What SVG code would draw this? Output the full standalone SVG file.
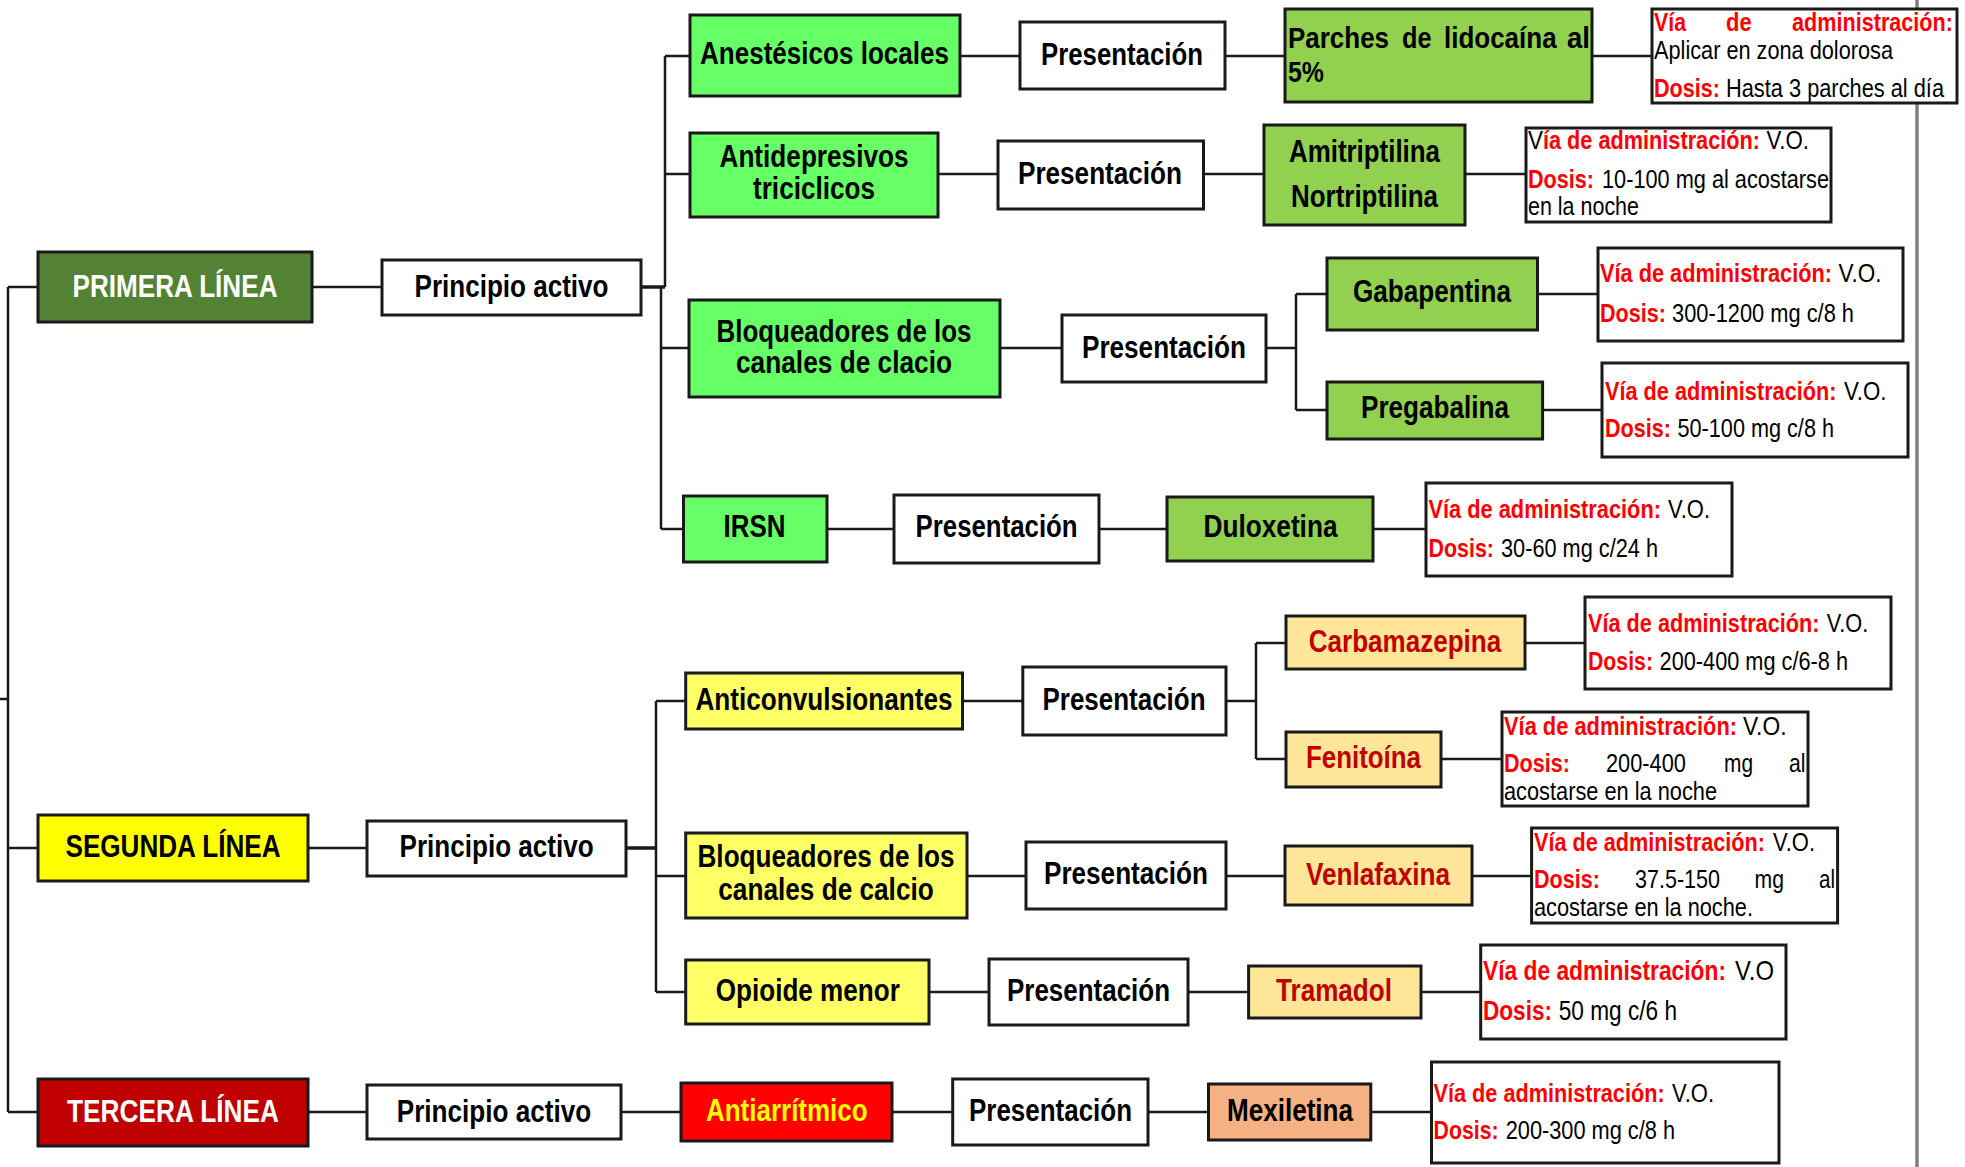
<svg xmlns="http://www.w3.org/2000/svg" width="1965" height="1167" viewBox="0 0 1965 1167">
<style>
text{font-family:"Liberation Sans Narrow","Arial Narrow","Liberation Sans",Arial,sans-serif;}
.box{stroke:#1a1a1a;stroke-width:3;}
.w{fill:#ffffff;}
.g1{fill:#548235;}
.g2{fill:#66FF66;}
.g3{fill:#92D050;}
.y1{fill:#FFFF00;}
.y2{fill:#FFFF66;}
.o1{fill:#FFE699;}
.rd1{fill:#C00000;}
.rd2{fill:#FF0000;}
.pe{fill:#F4B183;}
.h{font-weight:bold;font-size:31px;text-anchor:middle;fill:#000;}
.p{font-weight:bold;font-size:29px;fill:#000;}
.hw{fill:#fff;}
.hr{fill:#C00000;}
.hy{fill:#FFFF00;}
.i{font-size:26.5px;fill:#000;}
.r{fill:#FF0000;font-weight:bold;}
</style>

<line x1="1917" y1="0" x2="1917" y2="1167" stroke="#808080" stroke-width="3.5"/>

<g id="connectors" fill="none" stroke="#1a1a1a" stroke-width="2.5">
<path d="M8,287 V1112 M0,699 H8 M8,287 H38 M8,848 H38 M8,1112 H38"/>
<path d="M312,287 H382"/>
<path d="M641,287 H665" stroke-width="3.5"/>
<path d="M665,56 V287 M661,287 V529 M665,56 H690 M665,174 H690 M661,348 H689 M661,529 H683.5"/>
<path d="M960,56 H1020 M1225,56 H1285 M1592,56 H1652"/>
<path d="M938,174 H998 M1203.5,174 H1264 M1465,174 H1526"/>
<path d="M1000,348 H1062 M1266,348 H1296 M1296,294 V410 M1296,294 H1327 M1296,410 H1327 M1537.5,294 H1598 M1542.6,410 H1602"/>
<path d="M827,529 H894 M1099,529 H1167 M1373,529 H1426"/>
<path d="M308,848 H367"/>
<path d="M626,848 H656" stroke-width="3.5"/>
<path d="M656,701 V992 M656,701 H685.7 M656,876 H685.7 M656,992 H685.7"/>
<path d="M962.5,701 H1022.8 M1226,701 H1256 M1256,643 V759 M1256,643 H1286 M1256,759 H1286 M1525,643 H1585 M1441,759 H1502"/>
<path d="M967,876 H1026 M1226,876 H1285 M1472,876 H1532"/>
<path d="M929,992 H989 M1188,992 H1248.6 M1421,992 H1481"/>
<path d="M308,1112 H367 M621,1112 H681 M892,1112 H952.7 M1148,1112 H1208.5 M1371,1112 H1431.5"/>
</g>

<g id="primera-linea"><rect class="box g1" x="38" y="252" width="274" height="70"/><text class="h hw" x="175" y="297" textLength="205" lengthAdjust="spacingAndGlyphs">PRIMERA LÍNEA</text></g>
<g id="principio-1"><rect class="box w" x="382" y="260" width="259" height="55"/><text class="h" x="511.5" y="297" textLength="194" lengthAdjust="spacingAndGlyphs">Principio activo</text></g>

<g id="anestesicos"><rect class="box g2" x="690" y="15" width="270" height="81"/><text class="h" x="824.5" y="64" textLength="249" lengthAdjust="spacingAndGlyphs">Anestésicos locales</text></g>
<g id="presentacion-1"><rect class="box w" x="1020" y="22" width="205" height="67"/><text class="h" x="1122" y="65" textLength="162" lengthAdjust="spacingAndGlyphs">Presentación</text></g>
<g id="parches"><rect class="box g3" x="1285" y="9" width="307" height="93"/>
<text class="p" x="1288" y="48" textLength="101" lengthAdjust="spacingAndGlyphs">Parches</text>
<text class="p" x="1402" y="48" textLength="29.5" lengthAdjust="spacingAndGlyphs">de</text>
<text class="p" x="1444" y="48" textLength="112.6" lengthAdjust="spacingAndGlyphs">lidocaína</text>
<text class="p" x="1567" y="48" textLength="23" lengthAdjust="spacingAndGlyphs">al</text>
<text class="p" x="1288" y="82" textLength="36" lengthAdjust="spacingAndGlyphs">5%</text></g>
<g id="info-parches"><rect class="box w" x="1652" y="9" width="305" height="94"/>
<text class="i r" x="1654" y="31" textLength="32" lengthAdjust="spacingAndGlyphs">Vía</text>
<text class="i r" x="1726" y="31" textLength="25.6" lengthAdjust="spacingAndGlyphs">de</text>
<text class="i r" x="1792" y="31" textLength="161" lengthAdjust="spacingAndGlyphs">administración:</text>
<text class="i" x="1654" y="59" textLength="239" lengthAdjust="spacingAndGlyphs">Aplicar en zona dolorosa</text>
<text class="i r" x="1654" y="97" textLength="66" lengthAdjust="spacingAndGlyphs">Dosis:</text>
<text class="i" x="1726" y="97" textLength="218" lengthAdjust="spacingAndGlyphs">Hasta 3 parches al día</text></g>

<g id="antidepresivos"><rect class="box g2" x="690" y="133" width="248" height="84"/>
<text class="h" x="814" y="167" textLength="189" lengthAdjust="spacingAndGlyphs">Antidepresivos</text>
<text class="h" x="814" y="199" textLength="122" lengthAdjust="spacingAndGlyphs">triciclicos</text></g>
<g id="presentacion-2"><rect class="box w" x="998" y="141" width="205.5" height="68"/><text class="h" x="1100" y="184" textLength="164" lengthAdjust="spacingAndGlyphs">Presentación</text></g>
<g id="amitriptilina"><rect class="box g3" x="1264" y="125" width="201" height="100"/>
<text class="h" x="1364.5" y="162" textLength="151" lengthAdjust="spacingAndGlyphs">Amitriptilina</text>
<text class="h" x="1364.5" y="207" textLength="147" lengthAdjust="spacingAndGlyphs">Nortriptilina</text></g>
<g id="info-amitriptilina"><rect class="box w" x="1526" y="128" width="305" height="94"/>
<text class="i" x="1528" y="149" textLength="15" lengthAdjust="spacingAndGlyphs">V</text>
<text class="i r" x="1543" y="149" textLength="217" lengthAdjust="spacingAndGlyphs">ía de administración:</text>
<text class="i" x="1766.5" y="149" textLength="42.5" lengthAdjust="spacingAndGlyphs">V.O.</text>
<text class="i r" x="1528" y="188" textLength="66" lengthAdjust="spacingAndGlyphs">Dosis:</text>
<text class="i" x="1602" y="188" textLength="227" lengthAdjust="spacingAndGlyphs">10-100 mg al acostarse</text>
<text class="i" x="1528" y="215" textLength="111" lengthAdjust="spacingAndGlyphs">en la noche</text></g>

<g id="bloqueadores-1"><rect class="box g2" x="689" y="300" width="311" height="97"/>
<text class="h" x="844" y="342" textLength="255" lengthAdjust="spacingAndGlyphs">Bloqueadores de los</text>
<text class="h" x="844" y="373" textLength="216" lengthAdjust="spacingAndGlyphs">canales de clacio</text></g>
<g id="presentacion-3"><rect class="box w" x="1062" y="315" width="204" height="67"/><text class="h" x="1164" y="358" textLength="164" lengthAdjust="spacingAndGlyphs">Presentación</text></g>
<g id="gabapentina"><rect class="box g3" x="1327" y="258" width="210.5" height="72"/><text class="h" x="1432" y="302" textLength="158" lengthAdjust="spacingAndGlyphs">Gabapentina</text></g>
<g id="info-gabapentina"><rect class="box w" x="1598" y="248" width="305" height="93"/>
<text class="i r" x="1600" y="282" textLength="232" lengthAdjust="spacingAndGlyphs">Vía de administración:</text>
<text class="i" x="1838.6" y="282" textLength="43" lengthAdjust="spacingAndGlyphs">V.O.</text>
<text class="i r" x="1600" y="322" textLength="66" lengthAdjust="spacingAndGlyphs">Dosis:</text>
<text class="i" x="1672" y="322" textLength="182" lengthAdjust="spacingAndGlyphs">300-1200 mg c/8 h</text></g>
<g id="pregabalina"><rect class="box g3" x="1327" y="382" width="215.6" height="57"/><text class="h" x="1435" y="418" textLength="148" lengthAdjust="spacingAndGlyphs">Pregabalina</text></g>
<g id="info-pregabalina"><rect class="box w" x="1602" y="363" width="306" height="94"/>
<text class="i r" x="1605" y="400" textLength="231.5" lengthAdjust="spacingAndGlyphs">Vía de administración:</text>
<text class="i" x="1844" y="400" textLength="42.5" lengthAdjust="spacingAndGlyphs">V.O.</text>
<text class="i r" x="1605" y="437" textLength="66" lengthAdjust="spacingAndGlyphs">Dosis:</text>
<text class="i" x="1677.5" y="437" textLength="156.5" lengthAdjust="spacingAndGlyphs">50-100 mg c/8 h</text></g>

<g id="irsn"><rect class="box g2" x="683.5" y="496" width="143.5" height="66"/><text class="h" x="754.5" y="537" textLength="62" lengthAdjust="spacingAndGlyphs">IRSN</text></g>
<g id="presentacion-4"><rect class="box w" x="894" y="495" width="205" height="68"/><text class="h" x="996.6" y="537" textLength="162" lengthAdjust="spacingAndGlyphs">Presentación</text></g>
<g id="duloxetina"><rect class="box g3" x="1167" y="497" width="206" height="64"/><text class="h" x="1270.5" y="537" textLength="134" lengthAdjust="spacingAndGlyphs">Duloxetina</text></g>
<g id="info-duloxetina"><rect class="box w" x="1426" y="483" width="306" height="93"/>
<text class="i r" x="1428.5" y="518" textLength="232.5" lengthAdjust="spacingAndGlyphs">Vía de administración:</text>
<text class="i" x="1668" y="518" textLength="42" lengthAdjust="spacingAndGlyphs">V.O.</text>
<text class="i r" x="1428.5" y="557" textLength="65.5" lengthAdjust="spacingAndGlyphs">Dosis:</text>
<text class="i" x="1501" y="557" textLength="157" lengthAdjust="spacingAndGlyphs">30-60 mg c/24 h</text></g>

<g id="segunda-linea"><rect class="box y1" x="38" y="815" width="270" height="66"/><text class="h" x="173" y="857" textLength="215" lengthAdjust="spacingAndGlyphs">SEGUNDA LÍNEA</text></g>
<g id="principio-2"><rect class="box w" x="367" y="821" width="259" height="55"/><text class="h" x="496.6" y="857" textLength="194" lengthAdjust="spacingAndGlyphs">Principio activo</text></g>

<g id="anticonvulsionantes"><rect class="box y2" x="685.7" y="673" width="276.8" height="56"/><text class="h" x="824" y="710" textLength="257" lengthAdjust="spacingAndGlyphs">Anticonvulsionantes</text></g>
<g id="presentacion-5"><rect class="box w" x="1022.8" y="667" width="203.2" height="68"/><text class="h" x="1124" y="710" textLength="163" lengthAdjust="spacingAndGlyphs">Presentación</text></g>
<g id="carbamazepina"><rect class="box o1" x="1286" y="616" width="239" height="53"/><text class="h hr" x="1405" y="652" textLength="192.5" lengthAdjust="spacingAndGlyphs">Carbamazepina</text></g>
<g id="info-carbamazepina"><rect class="box w" x="1585" y="597" width="306" height="92"/>
<text class="i r" x="1588" y="632" textLength="231.5" lengthAdjust="spacingAndGlyphs">Vía de administración:</text>
<text class="i" x="1826.7" y="632" textLength="41.5" lengthAdjust="spacingAndGlyphs">V.O.</text>
<text class="i r" x="1588" y="670" textLength="65" lengthAdjust="spacingAndGlyphs">Dosis:</text>
<text class="i" x="1659.6" y="670" textLength="188.4" lengthAdjust="spacingAndGlyphs">200-400 mg c/6-8 h</text></g>
<g id="fenitoina"><rect class="box o1" x="1286" y="732" width="155" height="55"/><text class="h hr" x="1363.5" y="768" textLength="115" lengthAdjust="spacingAndGlyphs">Fenitoína</text></g>
<g id="info-fenitoina"><rect class="box w" x="1502" y="712" width="306" height="94"/>
<text class="i r" x="1504" y="735" textLength="233" lengthAdjust="spacingAndGlyphs">Vía de administración:</text>
<text class="i" x="1743" y="735" textLength="43.5" lengthAdjust="spacingAndGlyphs">V.O.</text>
<text class="i r" x="1504" y="772" textLength="66" lengthAdjust="spacingAndGlyphs">Dosis:</text>
<text class="i" x="1606" y="772" textLength="80" lengthAdjust="spacingAndGlyphs">200-400</text>
<text class="i" x="1724" y="772" textLength="29" lengthAdjust="spacingAndGlyphs">mg</text>
<text class="i" x="1789" y="772" textLength="16.5" lengthAdjust="spacingAndGlyphs">al</text>
<text class="i" x="1504" y="800" textLength="213" lengthAdjust="spacingAndGlyphs">acostarse en la noche</text></g>

<g id="bloqueadores-2"><rect class="box y2" x="685.7" y="833" width="281.3" height="85"/>
<text class="h" x="826" y="867" textLength="257" lengthAdjust="spacingAndGlyphs">Bloqueadores de los</text>
<text class="h" x="826" y="900" textLength="215.5" lengthAdjust="spacingAndGlyphs">canales de calcio</text></g>
<g id="presentacion-6"><rect class="box w" x="1026" y="842" width="200" height="67"/><text class="h" x="1126" y="884" textLength="164" lengthAdjust="spacingAndGlyphs">Presentación</text></g>
<g id="venlafaxina"><rect class="box o1" x="1285" y="846" width="187" height="59"/><text class="h hr" x="1378" y="885" textLength="144" lengthAdjust="spacingAndGlyphs">Venlafaxina</text></g>
<g id="info-venlafaxina"><rect class="box w" x="1531.6" y="828" width="306" height="95"/>
<text class="i r" x="1534" y="851" textLength="231" lengthAdjust="spacingAndGlyphs">Vía de administración:</text>
<text class="i" x="1773" y="851" textLength="42" lengthAdjust="spacingAndGlyphs">V.O.</text>
<text class="i r" x="1534" y="888" textLength="66" lengthAdjust="spacingAndGlyphs">Dosis:</text>
<text class="i" x="1635" y="888" textLength="85" lengthAdjust="spacingAndGlyphs">37.5-150</text>
<text class="i" x="1754.6" y="888" textLength="29.4" lengthAdjust="spacingAndGlyphs">mg</text>
<text class="i" x="1819" y="888" textLength="16" lengthAdjust="spacingAndGlyphs">al</text>
<text class="i" x="1534" y="916" textLength="219" lengthAdjust="spacingAndGlyphs">acostarse en la noche.</text></g>

<g id="opioide"><rect class="box y2" x="685.7" y="960" width="243.3" height="64"/><text class="h" x="807.8" y="1001" textLength="184" lengthAdjust="spacingAndGlyphs">Opioide menor</text></g>
<g id="presentacion-7"><rect class="box w" x="989" y="959" width="199" height="66"/><text class="h" x="1088.5" y="1001" textLength="163" lengthAdjust="spacingAndGlyphs">Presentación</text></g>
<g id="tramadol"><rect class="box o1" x="1248.6" y="966" width="172.4" height="52"/><text class="h hr" x="1334" y="1001" textLength="116" lengthAdjust="spacingAndGlyphs">Tramadol</text></g>
<g id="info-tramadol"><rect class="box w" x="1480.7" y="945" width="305.3" height="94"/>
<text class="i r" x="1483" y="980" textLength="243" lengthAdjust="spacingAndGlyphs" style="font-size:28px">Vía de administración:</text>
<text class="i" x="1735" y="980" textLength="39" lengthAdjust="spacingAndGlyphs" style="font-size:28px">V.O</text>
<text class="i r" x="1483" y="1020" textLength="69" lengthAdjust="spacingAndGlyphs" style="font-size:28px">Dosis:</text>
<text class="i" x="1558.7" y="1020" textLength="118.3" lengthAdjust="spacingAndGlyphs" style="font-size:28px">50 mg c/6 h</text></g>

<g id="tercera-linea"><rect class="box rd1" x="38" y="1079" width="270" height="67"/><text class="h hw" x="173" y="1122" textLength="212" lengthAdjust="spacingAndGlyphs">TERCERA LÍNEA</text></g>
<g id="principio-3"><rect class="box w" x="367" y="1085" width="254" height="54"/><text class="h" x="494" y="1122" textLength="194.5" lengthAdjust="spacingAndGlyphs">Principio activo</text></g>
<g id="antiarritmico"><rect class="box rd2" x="681" y="1083" width="211" height="58"/><text class="h hy" x="786.8" y="1121" textLength="161.6" lengthAdjust="spacingAndGlyphs">Antiarrítmico</text></g>
<g id="presentacion-8"><rect class="box w" x="952.7" y="1079" width="195.3" height="66"/><text class="h" x="1050.5" y="1121" textLength="163" lengthAdjust="spacingAndGlyphs">Presentación</text></g>
<g id="mexiletina"><rect class="box pe" x="1208.5" y="1084" width="162.3" height="56"/><text class="h" x="1290" y="1121" textLength="126" lengthAdjust="spacingAndGlyphs">Mexiletina</text></g>
<g id="info-mexiletina"><rect class="box w" x="1431.5" y="1062" width="347.5" height="101"/>
<text class="i r" x="1433.6" y="1102" textLength="231" lengthAdjust="spacingAndGlyphs">Vía de administración:</text>
<text class="i" x="1672" y="1102" textLength="42" lengthAdjust="spacingAndGlyphs">V.O.</text>
<text class="i r" x="1433.6" y="1139" textLength="65" lengthAdjust="spacingAndGlyphs">Dosis:</text>
<text class="i" x="1505.7" y="1139" textLength="169.3" lengthAdjust="spacingAndGlyphs">200-300 mg c/8 h</text></g>
</svg>
